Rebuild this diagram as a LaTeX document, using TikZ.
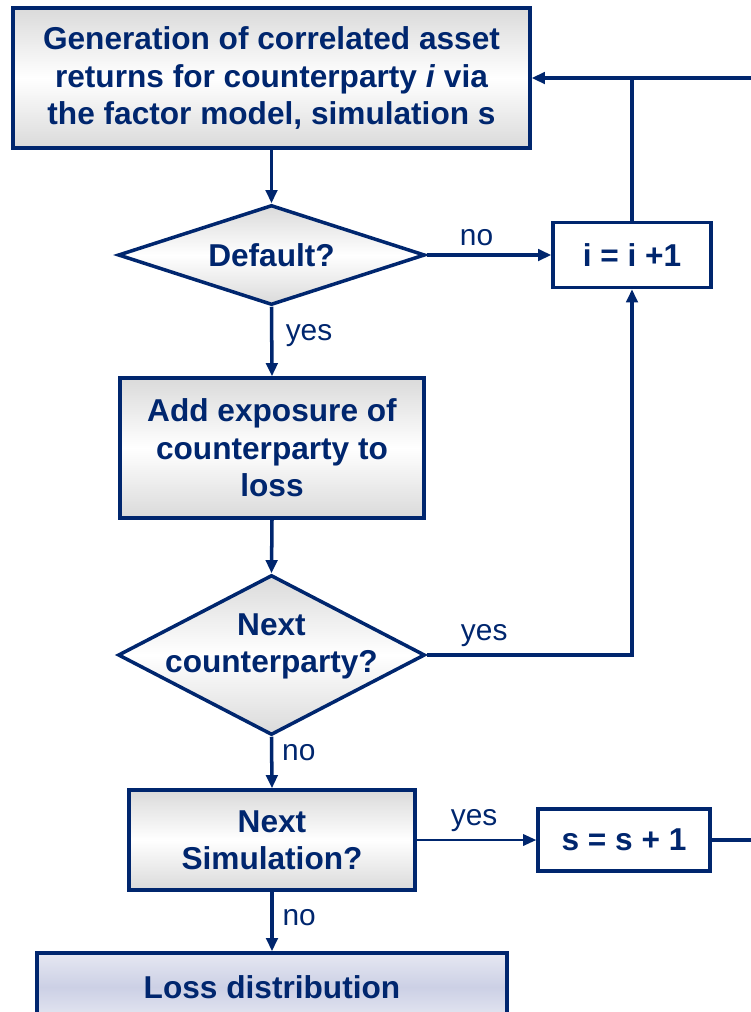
\documentclass[tikz,border=0pt]{standalone}
\usepackage{fontspec}
\setmainfont{Liberation Sans}
\usetikzlibrary{shapes.geometric, arrows.meta, positioning}
\definecolor{navy}{RGB}{0,38,110}
\definecolor{boxgray}{RGB}{218,218,218}
\definecolor{losslight}{RGB}{230,232,242}
\definecolor{lossdark}{RGB}{204,208,229}

\begin{document}
\begin{tikzpicture}[x=0.02cm, y=-0.02cm, >={Triangle[length=7.5pt, width=6.5pt]}]
	\tikzset{
		procnode/.style={rectangle, draw=navy, line width=2pt, top color=boxgray, bottom color=boxgray, middle color=white, text=navy, font=\fontsize{18}{21.3}\selectfont\bfseries, align=center, inner sep=0pt},
		decnode/.style={diamond, draw=navy, line width=2pt, top color=boxgray, bottom color=boxgray, middle color=white, text=navy, font=\fontsize{18}{21.3}\selectfont\bfseries, align=center, inner sep=0pt, aspect=3},
		dectext/.style={text=navy, font=\fontsize{18}{21.3}\selectfont\bfseries, align=center, inner sep=0pt},
		countnode/.style={rectangle, draw=navy, line width=2pt, fill=white, text=navy, font=\fontsize{18}{21.3}\selectfont\bfseries, inner sep=0pt},
		lossnode/.style={rectangle, draw=navy, line width=2pt, top color=losslight, bottom color=losslight, middle color=lossdark, text=navy, font=\fontsize{18}{21.3}\selectfont\bfseries, inner sep=0pt},
		flow/.style={->, draw=navy, line width=2pt},
		answer/.style={text=navy, font=\fontsize{17}{20}\selectfont, inner sep=4pt},
	}
	\useasboundingbox (0,0) rectangle (751,1012);
	\clip (0,0) rectangle (751,1012);

	\node[procnode, minimum width=10.34cm, minimum height=2.8cm] (gen) at (271.5,78) {Generation of correlated asset\\returns for counterparty \textit{i} via\\the factor model, simulation s};
	\node[decnode, minimum width=6.14cm, minimum height=2cm] (default) at (271.5,255) {Default?};
	\node[countnode, minimum width=3.16cm, minimum height=1.3cm] (inc) at (632,255) {i = i +1};
	\node[procnode, minimum width=6.08cm, minimum height=2.8cm] (add) at (272,448) {Add exposure of\\counterparty to\\loss};
	\node[decnode, minimum width=6.14cm, minimum height=3.2cm, label={[dectext, yshift=5pt]center:Next\\counterparty?}] (more) at (271.5,655) {};
	\node[procnode, minimum width=5.72cm, minimum height=2cm] (sim) at (272,840) {Next\\Simulation?};
	\node[countnode, minimum width=3.44cm, minimum height=1.24cm] (sinc) at (624,840) {s = s + 1};
	\node[lossnode, minimum width=9.4cm, minimum height=1.36cm] (loss) at (272,987) {Loss distribution};

	\draw[flow] (gen.south) -- (default.north);
	\draw[flow] (default.east) -- (inc.west) node[answer, pos=0.4, above] {no};
	\draw[flow] (default.south) -- (add.north) node[answer, pos=0.41, right, xshift=3pt] {yes};
	\draw[flow] (add.south) -- (more.north);
	\draw[flow] (more.east) -| (inc.south) node[answer, pos=0.14, above] {yes};
	\draw[flow] (more.south) -- (sim.north) node[answer, pos=0.31, right, xshift=1pt] {no};
	\draw[flow, line width=1.3pt] (sim.east) -- (sinc.west) node[answer, pos=0.48, above] {yes};
	\draw[flow] (sim.south) -- (loss.north) node[answer, pos=0.44, right, xshift=1pt] {no};

	% loop back to the top box
	\draw[flow] (sinc.east) -- ++(100,0) |- (gen.east);
	\draw[navy, line width=2pt] (inc.north) -- (inc.north |- gen.east);
\end{tikzpicture}
\end{document}
